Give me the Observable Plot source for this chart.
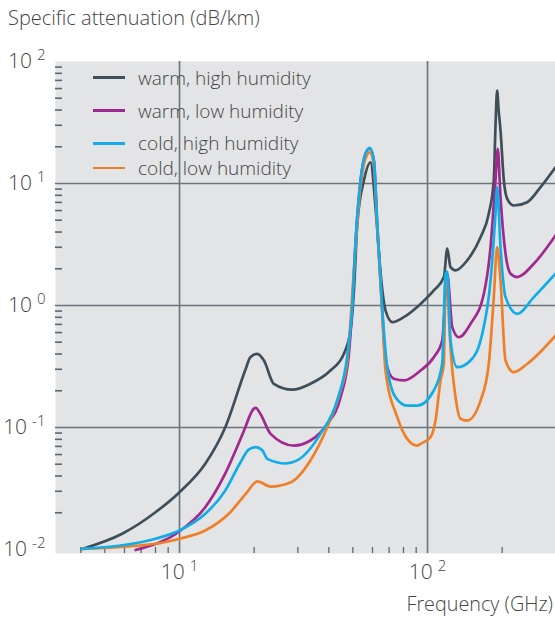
<!DOCTYPE html>
<html>
<head>
<meta charset="utf-8">
<script src="https://cdn.jsdelivr.net/npm/d3@7"></script>
<script src="https://cdn.jsdelivr.net/npm/@observablehq/plot@0.6"></script>
<style>
  body { margin: 0; background: #fff; font-family: "Open Sans", sans-serif; font-weight: 300; color: #444; }
  #wrap { position: relative; width: 555px; height: 617px; overflow: hidden; }
  #title { position: absolute; left: 8px; top: 4px; font-size: 20px; white-space: nowrap; }
  #chart { position: absolute; left: 0; top: 40px; }
  #xlabel { position: absolute; right: 2px; top: 590px; font-size: 19.8px; white-space: nowrap; }
  .leg { position: absolute; left: 93px; height: 24px; display: flex; align-items: center; font-size: 19px; white-space: nowrap; }
  .leg span.sw { display: inline-block; width: 32px; height: 2.6px; margin-right: 13px; }
</style>
</head>
<body>
<div id="wrap">
  <div id="title">Specific attenuation (dB/km)</div>
  <div id="chart"></div>
  <div id="xlabel">Frequency (GHz)</div>
</div>
<script>
// ---- series names / colours ----
const seriesNames = ["warm, high humidity", "warm, low humidity", "cold, high humidity", "cold, low humidity"];
const seriesColors = ["#3e4f5a", "#a0288f", "#12ade6", "#f07f27"];
const drawOrder = [0, 1, 3, 2];

// ---- warm, high humidity ----
const warmHighF = [4.05, 5.87, 8.0, 10, 12.7, 15.3, 18.5, 19.3, 20.6, 21.9, 24.0, 28.5, 33.7, 40.6, 46.0, 48.9, 50.5, 52.1, 55.4, 58.9, 61.7, 64.7, 67.7, 72.1, 80.2, 93.7, 106.0, 116.4, 120.1, 123.8, 129.7, 144.5, 163.6, 176.6, 185.0, 188.0, 190.8, 193.5, 196.9, 203.1, 209.6, 222.8, 252.4, 285.5, 328.1];
const warmHighA = [0.0101, 0.01345, 0.0202, 0.0295, 0.0504, 0.1005, 0.303, 0.377, 0.402, 0.354, 0.228, 0.204, 0.228, 0.293, 0.402, 0.624, 1.33, 4.68, 10.6, 14.9, 6.39, 1.82, 0.91, 0.73, 0.802, 1.03, 1.33, 1.71, 2.92, 2.06, 1.94, 2.34, 3.63, 5.65, 10.6, 30, 57.8, 40, 27.2, 10.6, 7.49, 6.6, 7.03, 9.33, 13.6];

// ---- warm, low humidity ----
const warmLowF = [6.65, 10, 12.7, 15.3, 17.1, 18.2, 19.9, 20.3, 21.2, 23.3, 28.9, 33.7, 39.4, 44.6, 48.2, 49.7, 51.3, 53.7, 56.2, 58.5, 60.8, 62.7, 65.6, 67.7, 73.1, 80.2, 93.7, 106.0, 114.6, 118.2, 120.1, 125.8, 133.7, 149.1, 168.7, 179.5, 187.9, 192.0, 196.9, 206.3, 216.2, 230.0, 268.3, 328.1];
const warmLowA = [0.0099, 0.0141, 0.0222, 0.042, 0.0698, 0.0944, 0.142, 0.145, 0.129, 0.0887, 0.0711, 0.0782, 0.107, 0.177, 0.402, 0.968, 3.41, 10.6, 17.5, 19.4, 15.2, 4.6, 0.95, 0.354, 0.251, 0.243, 0.293, 0.377, 0.516, 1.25, 1.82, 0.664, 0.549, 0.708, 1.25, 3.01, 10.6, 19.2, 7.73, 2.66, 1.82, 1.71, 2.2, 3.75];

// ---- cold, high humidity ----
const coldHighF = [4.05, 8.0, 10, 12.7, 15.3, 17.6, 19.0, 20.3, 21.6, 22.6, 26.8, 29.8, 37.0, 43.2, 47.4, 49.7, 51.3, 53.7, 56.2, 58.5, 60.8, 62.7, 65.6, 68.8, 74.3, 82.8, 90.9, 106.0, 114.6, 118.2, 120.1, 123.8, 131.8, 149.1, 166.2, 179.5, 187.9, 190.8, 196.9, 206.3, 230.0, 268.3, 328.1];
const coldHighA = [0.0101, 0.01225, 0.0143, 0.0196, 0.0305, 0.0516, 0.066, 0.069, 0.0647, 0.0553, 0.0507, 0.0537, 0.0887, 0.166, 0.377, 0.968, 3.41, 10.6, 17.5, 19.6, 15.4, 4.68, 0.968, 0.312, 0.177, 0.151, 0.151, 0.201, 0.333, 1.82, 1.9, 0.516, 0.312, 0.354, 0.586, 1.6, 5.65, 9.33, 3.01, 1.17, 0.855, 1.17, 1.82];

// ---- cold, low humidity ----
const coldLowF = [4.05, 8.0, 10, 12.7, 15.8, 18.5, 20.6, 23.3, 28.0, 33.7, 39.4, 44.6, 47.5, 51.3, 53.7, 56.2, 58.5, 60.8, 62.7, 65.6, 67.7, 75.5, 82.8, 90.9, 93.7, 102.8, 107.7, 112.8, 116.4, 118.2, 120.1, 122.1, 123.8, 129.7, 135.8, 144.5, 163.6, 176.6, 185.0, 190.8, 196.9, 206.3, 222.8, 252.4, 328.1];
const coldLowA = [0.0101, 0.01114, 0.01225, 0.0143, 0.0196, 0.0286, 0.0361, 0.0328, 0.0354, 0.0537, 0.1005, 0.201, 0.354, 3.1, 9.5, 16, 18, 14, 4.3, 0.9, 0.293, 0.1215, 0.0807, 0.0711, 0.0734, 0.0833, 0.114, 0.243, 0.333, 1.6, 1.75, 0.753, 0.455, 0.177, 0.118, 0.114, 0.166, 0.333, 1.17, 3.01, 1.6, 0.354, 0.284, 0.333, 0.567];

// ---- axes ----
const xMajor = [10, 100];
const xMajorLabels = ["10^1", "10^2"];
const xMinor = [4, 5, 6, 7, 8, 9, 20, 30, 40, 50, 60, 70, 80, 90, 200];
const yMajor = [0.01, 0.1, 1, 10, 100];
const yMajorLabels = ["10^-2", "10^-1", "10^0", "10^1", "10^2"];
const yMinor = [0.02, 0.03, 0.04, 0.05, 0.06, 0.07, 0.08, 0.09,
                0.2, 0.3, 0.4, 0.5, 0.6, 0.7, 0.8, 0.9,
                2, 3, 4, 5, 6, 7, 8, 9,
                20, 30, 40, 50, 60, 70, 80, 90];
const xGrid = [10, 100];
const yGrid = [0.1, 1, 10];

// ---- build table ----
const seriesF = [warmHighF, warmLowF, coldHighF, coldLowF];
const seriesA = [warmHighA, warmLowA, coldHighA, coldLowA];
const rows = [];
for (const i of drawOrder) {
  seriesF[i].forEach((f, j) => rows.push({ series: seriesNames[i], f, a: seriesA[i][j] }));
}

const gridColor = "#6b747a";
const tickColor = "#5b6770";

const plot = Plot.plot({
  width: 555,
  height: 550,
  marginLeft: 55,
  marginRight: 0,
  marginTop: 21,
  marginBottom: 37,
  style: { fontFamily: "Open Sans, sans-serif", fontWeight: 300, fontSize: "21px", color: "#444", background: "transparent", overflow: "visible" },
  x: { type: "log", domain: [3.162, 328.1] },
  y: { type: "log", domain: [0.00927, 100] },
  color: { domain: seriesNames, range: seriesColors },
  marks: [
    Plot.frame({ fill: "#e3e4e6", stroke: null }),
    Plot.ruleX(xGrid, { stroke: gridColor, strokeWidth: 1.6 }),
    Plot.ruleY(yGrid, { stroke: gridColor, strokeWidth: 1.6 }),
    Plot.axisY({ ticks: yMinor, tickSize: 7, dx: 7, tickFormat: () => "", label: null, stroke: tickColor, strokeWidth: 1.6 }),
    Plot.axisX({ ticks: xMinor, tickSize: 6, dy: -6, tickFormat: () => "", label: null, stroke: tickColor, strokeWidth: 1.3 }),
    Plot.axisY({ ticks: yMajor, tickSize: 0, tickPadding: 10, tickFormat: d => yMajorLabels[yMajor.indexOf(d)], label: null, fill: "#444" }),
    Plot.axisX({ ticks: xMajor, tickSize: 0, tickPadding: 11, tickFormat: d => xMajorLabels[xMajor.indexOf(d)], label: null, fill: "#444" }),
    Plot.line(rows, { x: "f", y: "a", z: "series", stroke: "series", strokeWidth: 2.7, curve: "monotone-x" })
  ]
});

// superscript exponents
d3.select(plot).selectAll("text").each(function () {
  const t = d3.select(this);
  const s = t.text();
  if (!s || s.indexOf("^") < 0) return;
  const [base, exp] = s.split("^");
  t.text(base);
  t.append("tspan").attr("dx", "5").attr("dy", "-0.55em").attr("font-size", "15px").text(exp);
});

document.getElementById("chart").appendChild(plot);

// legend overlay
const legendY = [77.7, 110.7, 143.3, 168];
const wrap = document.getElementById("wrap");
seriesNames.forEach((name, i) => {
  const d = document.createElement("div");
  d.className = "leg";
  d.style.top = (legendY[i] - 12) + "px";
  d.innerHTML = `<span class="sw" style="background:${seriesColors[i]}"></span><span>${name}</span>`;
  wrap.appendChild(d);
});
</script>
</body>
</html>
